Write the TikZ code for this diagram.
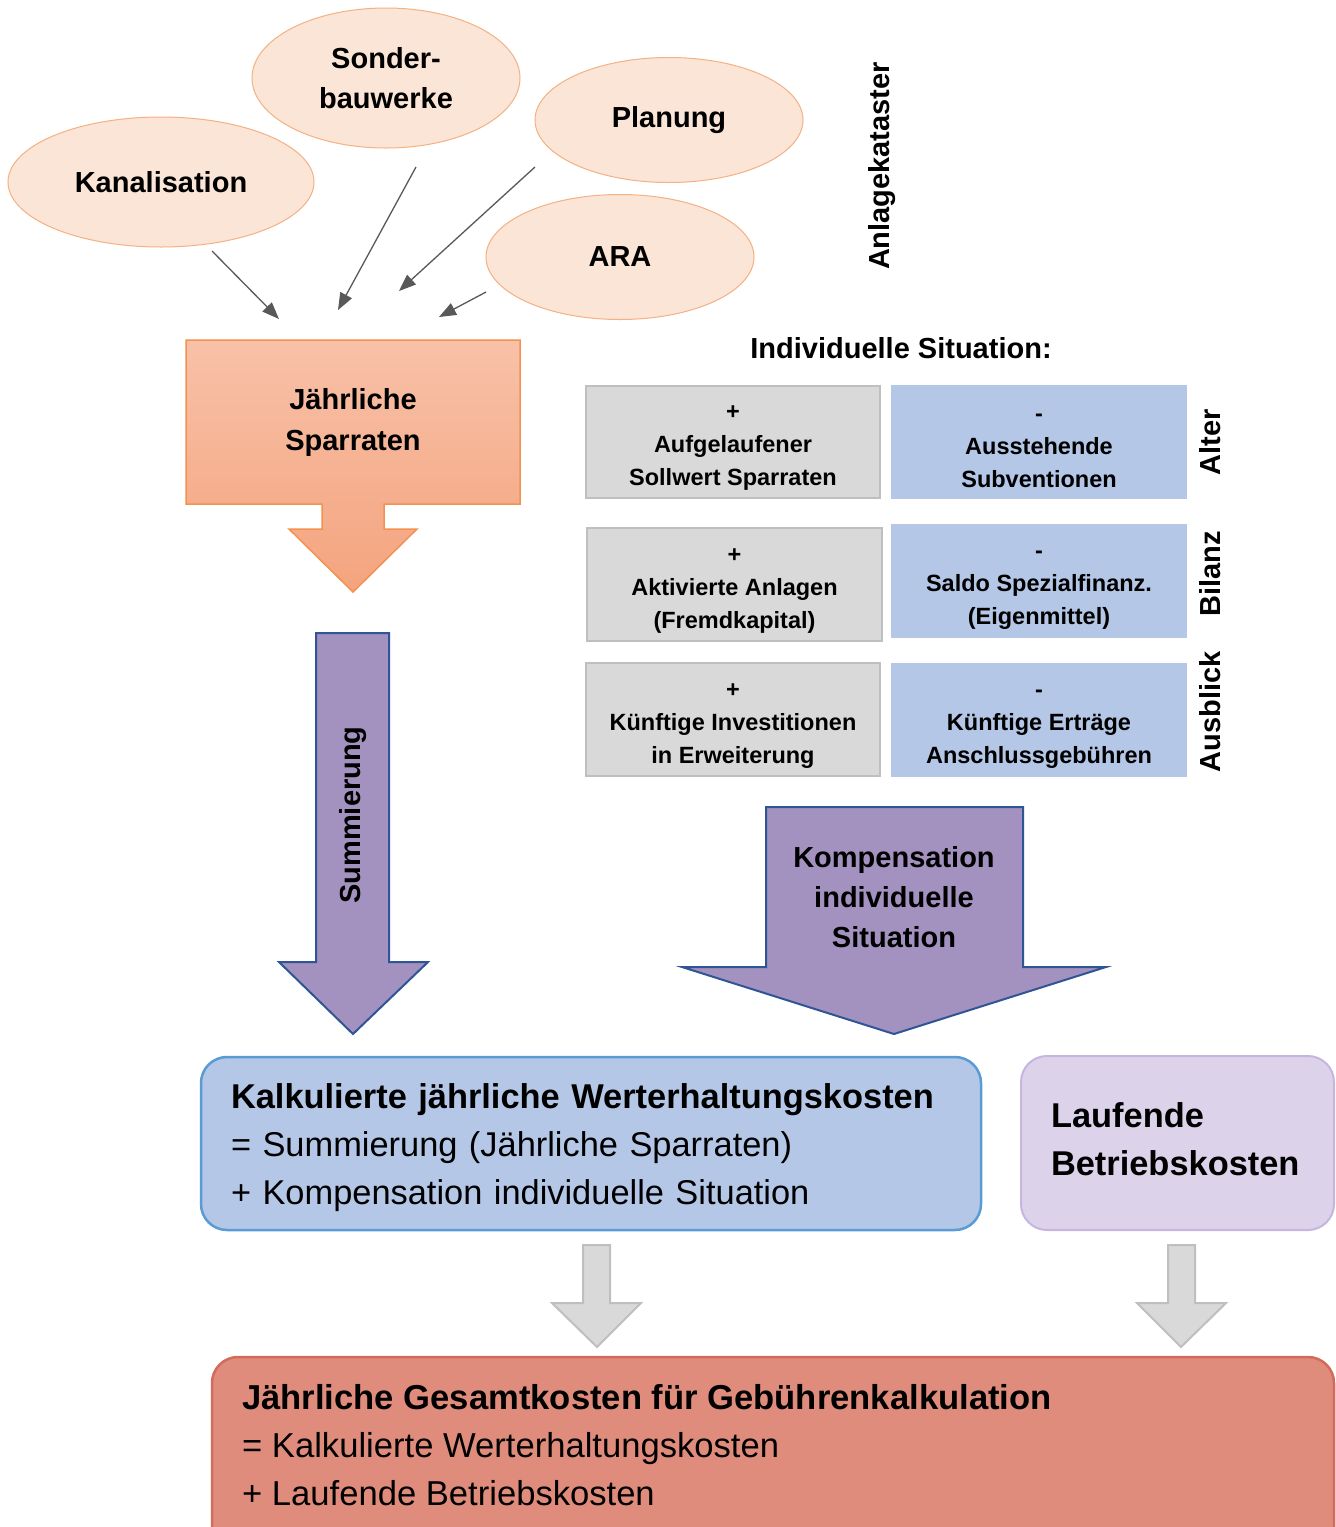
\documentclass[tikz,border=0pt]{standalone}
\usepackage{fontspec}
\setmainfont{Liberation Sans}
\usetikzlibrary{shapes.geometric,arrows.meta}
\definecolor{peach}{HTML}{FBE5D6}
\definecolor{peachline}{HTML}{F4B183}
\definecolor{arrgray}{HTML}{595959}
\definecolor{boxgray}{HTML}{D9D9D9}
\definecolor{boxgrayline}{HTML}{BFBFBF}
\definecolor{boxblue}{HTML}{B4C7E7}
\definecolor{purplefill}{HTML}{A391BF}
\definecolor{purpleline}{HTML}{2F5597}
\definecolor{kalkline}{HTML}{5B9BD5}
\definecolor{lauffill}{HTML}{DCD3EA}
\definecolor{laufline}{HTML}{C6B6DF}
\definecolor{totfill}{HTML}{E08C7C}
\definecolor{totline}{HTML}{D36B5B}
\definecolor{spartop}{HTML}{F8C1A8}
\definecolor{sparbot}{HTML}{F4A47E}
\definecolor{sparline}{HTML}{F4914F}
\newcommand\myfs[2]{\fontsize{#1}{#2}\selectfont}
\newcommand\toprule[1]{\rule{0pt}{#1}}
\tikzset{
  srcell/.style={ellipse, draw=peachline, fill=peach, line width=1pt, inner sep=0pt,
    align=center, font=\myfs{29}{40}\bfseries},
  feed/.style={draw=arrgray, line width=1.3pt, -{Triangle[length=17pt,width=13pt]}},
  graycell/.style={draw=boxgrayline, fill=boxgray, line width=1.5pt, minimum width=294pt,
    minimum height=112pt, inner sep=0pt, align=center, font=\myfs{23.5}{33}\bfseries},
  bluecell/.style={fill=boxblue, minimum width=296pt, minimum height=114pt, inner sep=0pt,
    align=center, font=\myfs{23.5}{33}\bfseries},
  sidelabel/.style={rotate=90, font=\myfs{29}{34}\bfseries, inner sep=0pt},
  bigarrow/.style={fill=purplefill, draw=purpleline, line width=2pt, line join=miter},
  grayarrow/.style={fill=boxgray, draw=boxgrayline, line width=2pt, line join=miter},
  bold29/.style={font=\myfs{29}{41}\bfseries, align=center, inner sep=0pt},
}
\begin{document}
\begin{tikzpicture}[x=1pt,y=-1pt]
\useasboundingbox (0,0) rectangle (1336,1527);
\fill[white] (0,0) rectangle (1336,1527);

% source ellipses
\node[srcell, minimum width=306pt, minimum height=130pt] (kan) at (161,182) {Kanalisation};
\node[srcell, minimum width=268pt, minimum height=140pt] (son) at (386,78) {Sonder-\\bauwerke};
\node[srcell, minimum width=268pt, minimum height=125pt] (pla) at (669,120) {Planung};
\node[srcell, minimum width=268pt, minimum height=125pt] (ara) at (620,257) {ARA};

\node[sidelabel] (kat) at (882,166) {Anlagekataster};

% feed arrows
\coordinate (k1) at (212,251); \coordinate (k2) at (279,319);
\coordinate (s1) at (416,167); \coordinate (s2) at (338,310);
\coordinate (p1) at (535,167); \coordinate (p2) at (399,291);
\coordinate (a1) at (486,292); \coordinate (a2) at (439,317);
\draw[feed] (k1) -- (k2);
\draw[feed] (s1) -- (s2);
\draw[feed] (p1) -- (p2);
\draw[feed] (a1) -- (a2);

% Jaehrliche Sparraten block arrow
\path[draw=sparline, line width=1.5pt, top color=spartop, bottom color=sparbot, line join=miter]
  (186,340) -- (520,340) -- (520,504) -- (384,504) -- (384,529) -- (417,529) -- (353,592)
  -- (289,529) -- (322,529) -- (322,504) -- (186,504) -- cycle;
\node[bold29] (spar) at (353,422) {Jährliche\\Sparraten};

% Summierung arrow
\path[bigarrow] (316,633) -- (389,633) -- (389,962) -- (428,962) -- (353,1034)
  -- (279,962) -- (316,962) -- cycle;
\node[sidelabel] (summ) at (353,815) {Summierung};

% Individuelle Situation
\node[font=\myfs{29}{34}\bfseries, inner sep=0pt] (indiv) at (901,348) {Individuelle Situation:};

\node[graycell] (g1) at (733,442) {\toprule{26pt}+\\Aufgelaufener\\Sollwert Sparraten};
\node[bluecell] (b1) at (1039,442) {\toprule{26pt}-\\Ausstehende\\Subventionen};
\node[graycell, minimum width=295pt, minimum height=113pt] (g2) at (734.5,584.5) {\toprule{26pt}+\\Aktivierte Anlagen\\(Fremdkapital)};
\node[bluecell] (b2) at (1039,581) {\toprule{26pt}-\\Saldo Spezialfinanz.\\(Eigenmittel)};
\node[graycell, minimum height=113pt] (g3) at (733,719.5) {\toprule{26pt}+\\Künftige Investitionen\\in Erweiterung};
\node[bluecell] (b3) at (1039,720) {\toprule{26pt}-\\Künftige Erträge\\Anschlussgebühren};

\node[sidelabel] (alt) at (1210,442) {Alter};
\node[sidelabel] (bil) at (1210,574) {Bilanz};
\node[sidelabel] (aus) at (1210,712) {Ausblick};

% Kompensation arrow
\path[bigarrow] (766,807) -- (1023,807) -- (1023,967) -- (1106,967) -- (894,1034)
  -- (682,967) -- (766,967) -- cycle;
\node[font=\myfs{29}{40}\bfseries, align=center, inner sep=0pt] (komp) at (894,897)
  {Kompensation\\individuelle\\Situation};

% Kalkulierte box
\node[draw=kalkline, fill=boxblue, line width=2.5pt, rounded corners=26pt,
  minimum width=780pt, minimum height=173pt, text width=720pt, inner xsep=30pt,
  align=left, font=\myfs{34.4}{48}] (kalk) at (591,1143.5)
  {\strut\textbf{Kalkulierte jährliche Werterhaltungskosten}\\= Summierung (Jährliche Sparraten)\\+ Kompensation individuelle Situation};

% Laufende box
\node[draw=laufline, fill=lauffill, line width=2pt, rounded corners=26pt,
  minimum width=313pt, minimum height=174pt, text width=253pt, inner xsep=30pt,
  align=left, font=\myfs{34.4}{48}\bfseries] (lauf) at (1177.5,1143)
  {Laufende\\Betriebskosten\rule[-7pt]{0pt}{0pt}};

% gray arrows
\path[grayarrow] (583,1245) -- (610,1245) -- (610,1303) -- (641,1303) -- (597,1347)
  -- (552,1303) -- (583,1303) -- cycle;
\path[grayarrow] (1168,1245) -- (1195,1245) -- (1195,1303) -- (1226,1303) -- (1181,1347)
  -- (1137,1303) -- (1168,1303) -- cycle;

% total box
\draw[draw=totline, fill=totfill, line width=2.5pt, rounded corners=26pt]
  (212,1357) rectangle (1334,1580);
\node[anchor=west, align=left, inner sep=0pt, font=\myfs{34.6}{48}] (tot) at (242,1445)
  {\textbf{Jährliche Gesamtkosten für Gebührenkalkulation}\\= Kalkulierte Werterhaltungskosten\\+ Laufende Betriebskosten};
\end{tikzpicture}
\end{document}
